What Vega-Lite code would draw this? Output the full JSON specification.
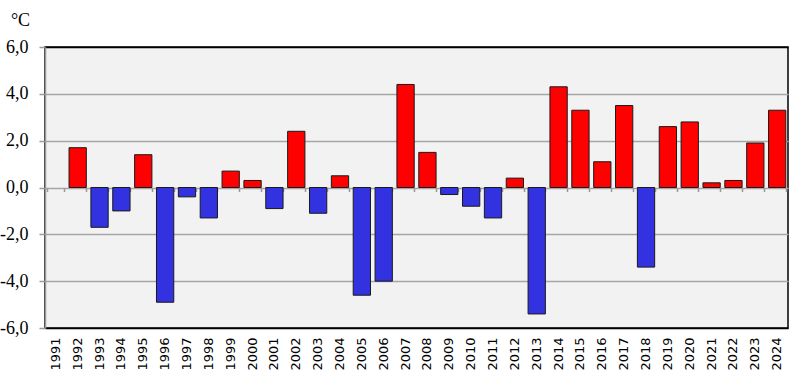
{
  "$schema": "https://vega.github.io/schema/vega-lite/v6.json",
  "autosize": "none",
  "width": 743,
  "height": 281,
  "padding": {"left": 45, "top": 47, "right": 10, "bottom": 56},
  "background": "white",
  "view": {"fill": "#F2F2F2", "stroke": "#000000", "strokeWidth": 1.5},
  "config": {
    "axisY": {
      "labelFont": "Liberation Serif",
      "labelFontSize": 18,
      "titleFont": "Liberation Serif",
      "titleFontSize": 18,
      "titleFontWeight": "normal",
      "labelColor": "#000000",
      "titleColor": "#000000"
    },
    "axisX": {
      "labelFont": "DejaVu Sans",
      "labelFontSize": 13,
      "labelColor": "#000000"
    }
  },
  "data": {
    "values": [
      {"year": "1992", "value": 1.7},
      {"year": "1993", "value": -1.7},
      {"year": "1994", "value": -1.0},
      {"year": "1995", "value": 1.4},
      {"year": "1996", "value": -4.9},
      {"year": "1997", "value": -0.4},
      {"year": "1998", "value": -1.3},
      {"year": "1999", "value": 0.7},
      {"year": "2000", "value": 0.3},
      {"year": "2001", "value": -0.9},
      {"year": "2002", "value": 2.4},
      {"year": "2003", "value": -1.1},
      {"year": "2004", "value": 0.5},
      {"year": "2005", "value": -4.6},
      {"year": "2006", "value": -4.0},
      {"year": "2007", "value": 4.4},
      {"year": "2008", "value": 1.5},
      {"year": "2009", "value": -0.3},
      {"year": "2010", "value": -0.8},
      {"year": "2011", "value": -1.3},
      {"year": "2012", "value": 0.4},
      {"year": "2013", "value": -5.4},
      {"year": "2014", "value": 4.3},
      {"year": "2015", "value": 3.3},
      {"year": "2016", "value": 1.1},
      {"year": "2017", "value": 3.5},
      {"year": "2018", "value": -3.4},
      {"year": "2019", "value": 2.6},
      {"year": "2020", "value": 2.8},
      {"year": "2021", "value": 0.2},
      {"year": "2022", "value": 0.3},
      {"year": "2023", "value": 1.9},
      {"year": "2024", "value": 3.3}
    ]
  },
  "resolve": {"axis": {"x": "independent"}},
  "layer": [
    {
      "mark": {"type": "bar", "stroke": "#1a1a1a", "strokeWidth": 1},
      "encoding": {
        "x": {
          "field": "year",
          "type": "ordinal",
          "scale": {
            "domain": ["1991","1992","1993","1994","1995","1996","1997","1998","1999","2000","2001","2002","2003","2004","2005","2006","2007","2008","2009","2010","2011","2012","2013","2014","2015","2016","2017","2018","2019","2020","2021","2022","2023","2024"],
            "paddingInner": 0.21,
            "paddingOuter": 0.1
          },
          "axis": {
            "orient": "bottom",
            "title": null,
            "labelAngle": -90,
            "labelAlign": "right",
            "labelBaseline": "middle",
            "labelPadding": 9,
            "ticks": false,
            "domain": false,
            "grid": false,
            "encode": {
              "labels": {
                "update": {
                  "fontSize": {"value": 13},
                  "font": {"value": "DejaVu Sans"},
                  "fill": {"value": "#000000"}
                }
              }
            }
          }
        },
        "y": {
          "field": "value",
          "type": "quantitative",
          "scale": {"domain": [-6, 6], "nice": false},
          "axis": {
            "values": [-6, -4, -2, 0, 2, 4, 6],
            "title": "°C",
            "titleAngle": 0,
            "titleAlign": "center",
            "titleBaseline": "alphabetic",
            "titleX": -25,
            "titleY": -22,
            "labelExpr": "replace(replace(format(datum.value, '.1f'), '.', ','), '\u2212', '-')",
            "labelPadding": 11,
            "tickSize": 6,
            "tickColor": "#999999",
            "tickWidth": 1.5,
            "domainColor": "#999999",
            "domainWidth": 1.5,
            "grid": true,
            "gridColor": {"condition": {"test": "datum.value == 6 || datum.value == -6", "value": "#000000"}, "value": "#A6A6A6"},
            "gridWidth": 1.5
          }
        },
        "color": {
          "condition": {"test": "datum.value >= 0", "value": "#FF0000"},
          "value": "#3232E0"
        }
      }
    },
    {
      "mark": {"type": "bar", "opacity": 0},
      "encoding": {
        "x": {
          "field": "year",
          "type": "ordinal",
          "axis": {
            "orient": "bottom",
            "offset": -140.5,
            "labels": false,
            "domain": false,
            "grid": false,
            "ticks": true,
            "tickBand": "extent",
            "tickSize": 4,
            "tickColor": "#999999",
            "tickWidth": 1.5,
            "title": null
          }
        },
        "y": {"field": "value", "type": "quantitative"}
      }
    }
  ]
}
